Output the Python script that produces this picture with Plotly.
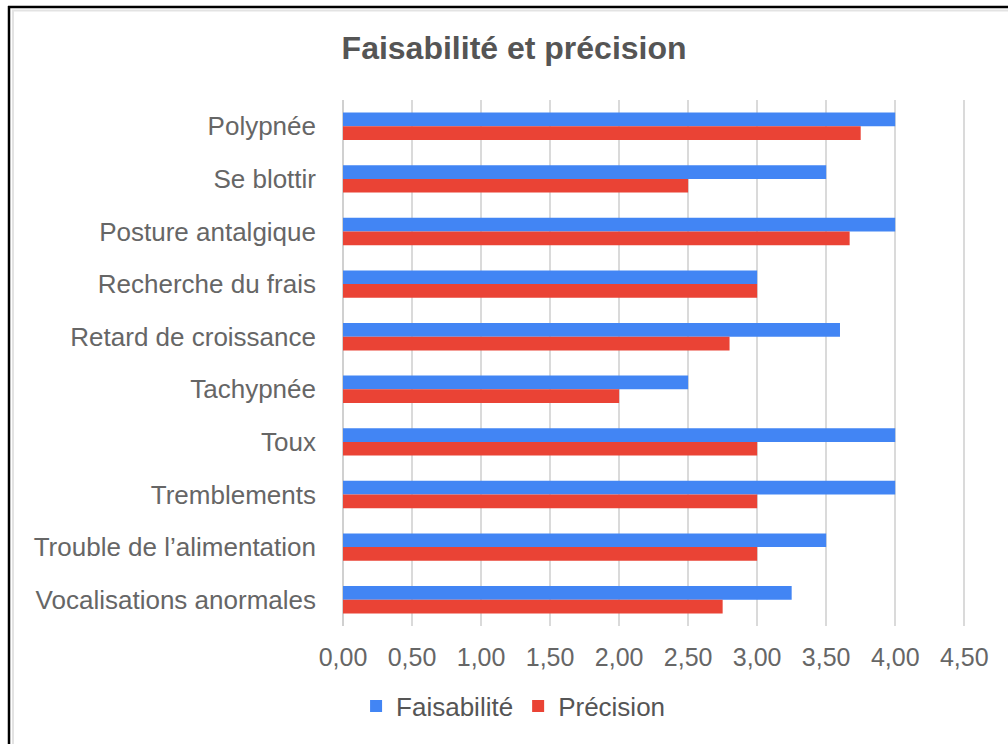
import plotly.graph_objects as go

categories = ["Polypnée", "Se blottir", "Posture antalgique", "Recherche du frais",
              "Retard de croissance", "Tachypnée", "Toux", "Tremblements",
              "Trouble de l’alimentation", "Vocalisations anormales"]
faisabilite = [4.00, 3.50, 4.00, 3.00, 3.60, 2.50, 4.00, 4.00, 3.50, 3.25]
precision = [3.75, 2.50, 3.67, 3.00, 2.80, 2.00, 3.00, 3.00, 3.00, 2.75]
x_ticks = [0, 0.5, 1.0, 1.5, 2.0, 2.5, 3.0, 3.5, 4.0, 4.5]

W, H = 1008, 744
L, R, T, B = 343, 41, 100, 118
pw, ph = W - L - R, H - T - B

def px(xp):
    return (xp - L) / pw

def py(yp):
    return (H - B - yp) / ph

fig = go.Figure()
fig.add_trace(go.Bar(y=categories, x=faisabilite, orientation="h", name="Faisabilité",
                     marker=dict(color="#4285F4", line=dict(width=0))))
fig.add_trace(go.Bar(y=categories, x=precision, orientation="h", name="Précision",
                     marker=dict(color="#EA4335", line=dict(width=0))))

shapes = [
    dict(type="line", xref="paper", yref="paper", x0=px(8), x1=px(1010), y0=py(7), y1=py(7),
         line=dict(color="black", width=2.5)),
    dict(type="line", xref="paper", yref="paper", x0=px(9), x1=px(9), y0=py(6), y1=py(746),
         line=dict(color="black", width=2.5)),
    dict(type="line", xref="paper", yref="paper", x0=px(12), x1=px(1010), y0=py(10.5), y1=py(10.5),
         line=dict(color="#e3e3e3", width=2)),
    dict(type="line", xref="paper", yref="paper", x0=px(13), x1=px(13), y0=py(10), y1=py(746),
         line=dict(color="#e3e3e3", width=2)),
]

fig.update_layout(
    width=W, height=H,
    margin=dict(l=L, r=R, t=T, b=B, autoexpand=False),
    paper_bgcolor="white", plot_bgcolor="white",
    separators=", ",
    barmode="group", bargap=0.48, bargroupgap=0,
    font=dict(family="Arial, Liberation Sans, sans-serif", color="#666666", size=26),
    title=dict(text="<b>Faisabilité et précision</b>", xref="container", x=0.51, xanchor="center",
               yref="container", y=1 - 48 / H, yanchor="middle",
               font=dict(size=32, color="#555555")),
    legend=dict(orientation="h", xref="container", yref="container", x=0.509, xanchor="center",
                y=1 - 706 / H, yanchor="middle", font=dict(size=26, color="#555555"),
                itemwidth=30, traceorder="normal"),
    shapes=shapes,
)
fig.update_xaxes(range=[0, 4.52], tickvals=x_ticks, tickformat=".2f",
                 showgrid=True, gridcolor="#dadada", gridwidth=1.5,
                 zeroline=True, zerolinecolor="#d0d0d0", zerolinewidth=1.5,
                 showline=False, ticks="", ticklabelstandoff=14,
                 tickfont=dict(size=25, color="#666666"))
fig.update_yaxes(autorange="reversed", showgrid=False, zeroline=False, showline=False,
                 ticks="", ticklabelstandoff=26, tickfont=dict(size=26, color="#666666"))

fig.write_html("out.html", config={"displayModeBar": False},
               post_script="document.body.style.margin='0';document.body.style.overflow='hidden';")
